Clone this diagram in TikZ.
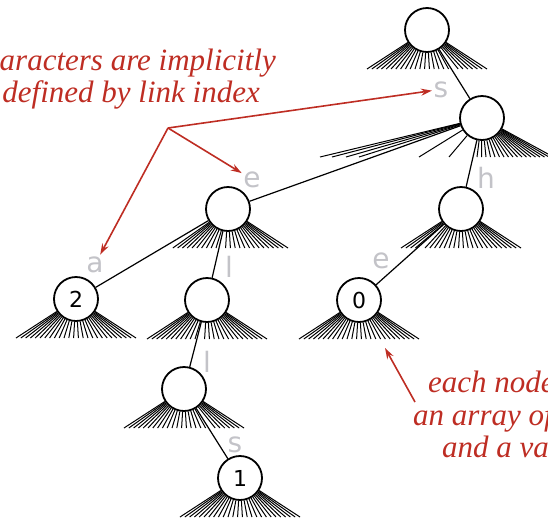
\documentclass[tikz,border=0pt]{standalone}
\usepackage{fontspec}
\newfontfamily\notefont{Liberation Serif}
\newfontfamily\keyfont{DejaVu Sans}
\usetikzlibrary{arrows.meta}
\definecolor{notered}{RGB}{190,45,35}
\definecolor{keygray}{RGB}{195,195,200}
\newcommand{\fan}[2]{\foreach \i in {#2}{\draw[link] (#1) -- ([shift={(-60+\i*4.8,39)}]#1.center);}}
\begin{document}
\begin{tikzpicture}[x=1pt,y=-1pt,
trie/.style={circle,draw,line width=1.8pt,fill=white,minimum size=44pt,inner sep=0pt,font=\keyfont\fontsize{22}{22}\selectfont},
link/.style={line width=1pt},
edge/.style={line width=1.2pt},
key/.style={anchor=base,text=keygray,inner sep=1.5pt,font=\keyfont\fontsize{28}{28}\selectfont},
note/.style={text=notered,inner sep=0pt,font=\notefont\itshape\fontsize{31}{31}\selectfont},
pointer/.style={draw=notered,line width=1.6pt,-{Stealth[length=11pt,width=7pt]}}]
\useasboundingbox (0,0) rectangle (548,520);
\clip (0,0) rectangle (548,520);
\node[trie] (root) at (427,30) {};
\node[trie] (s) at (482,118) {};
\node[trie] (se) at (228,209) {};
\node[trie] (sh) at (461,209) {};
\node[trie] (sea) at (76,299) {2};
\node[trie] (sel) at (207,300) {};
\node[trie] (she) at (359,300) {0};
\node[trie] (sell) at (184,389) {};
\node[trie] (sells) at (240,478) {1};
\fan{root}{0,...,17,19,20,...,25}
\fan{se}{1,...,10,12,13,...,25}
\fan{sh}{0,...,3,5,6,...,25}
\fan{sea}{0,...,25}
\fan{sel}{0,...,10,12,13,...,25}
\fan{she}{0,...,25}
\fan{sell}{0,...,17,19,20,...,25}
\fan{sells}{0,...,25}
\foreach \x in {320,332,346,359,419,449}
{
\draw[link] (s) -- (\x,157);
}
\foreach \i in {0,...,17}
{
\draw[link] (s) -- (477+\i*4.5,157);
}
\draw[edge] (root) -- (s);
\draw[edge] (s) -- (se);
\draw[edge] (s) -- (sh);
\draw[edge] (se) -- (sea);
\draw[edge] (se) -- (sel);
\draw[edge] (sel) -- (sell);
\draw[edge] (sell) -- (sells);
\draw[edge] (sh) -- (she);
\node[key] (ks) at (441,97) {s};
\node[key] (ke) at (252,187) {e};
\node[key] (kh) at (486,188) {h};
\node[key] (ka) at (95,272) {a};
\node[key] (kl) at (229,277) {l};
\node[key] (kll) at (207,372) {l};
\node[key] (khe) at (381,268) {e};
\node[key] (kls) at (235,452) {s};
\node[note,anchor=base east] (chars) at (276,70) {aracters are implicitly};
\node[note,anchor=base east] (index) at (260,102) {defined by link index};
\node[note,anchor=base west] (each) at (428,392) {each node};
\node[note,anchor=base west] (array) at (413,425) {an array of};
\node[note,anchor=base west] (value) at (442,457) {and a va};
\coordinate (fork) at (168,128);
\draw[pointer] (fork) -- (ks);
\draw[pointer] (fork) -- (ke);
\draw[pointer] (fork) -- (ka);
\coordinate (tail) at (415,402);
\coordinate (tip) at (385,348);
\draw[pointer] (tail) -- (tip);
\end{tikzpicture}
\end{document}
